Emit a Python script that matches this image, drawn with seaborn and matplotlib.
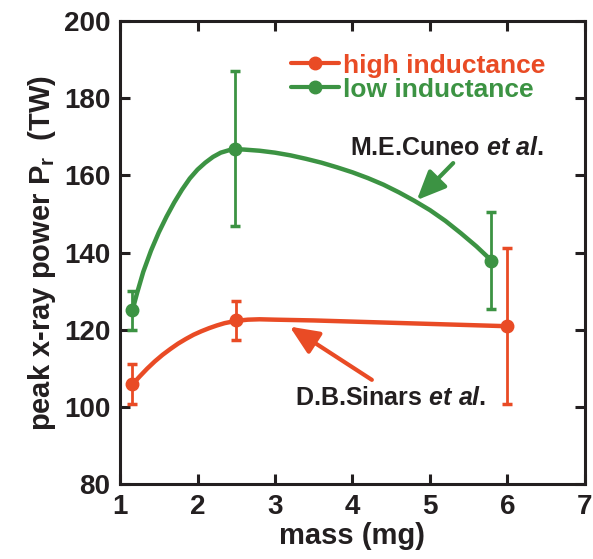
import matplotlib
matplotlib.use("Agg")
import matplotlib.pyplot as plt
import pandas as pd
import seaborn as sns
from matplotlib.lines import Line2D

RED = "#E94B25"
GREEN = "#3C9343"

# measured points with error bars
high_mass = [1.16, 2.5, 6.0]
high_power = [105.8, 122.4, 120.9]
high_err_lo = [5.0, 5.0, 20.1]
high_err_hi = [5.3, 5.1, 20.2]

low_mass = [1.16, 2.48, 5.79]
low_power = [125.0, 166.8, 137.9]
low_err_lo = [5.0, 19.9, 12.5]
low_err_hi = [5.0, 20.3, 12.7]

# smooth guide curves
high_curve_x = [1.16, 1.25, 1.35, 1.45, 1.55, 1.65, 1.75, 1.85, 1.95, 2.05, 2.15, 2.25, 2.35,
                2.5, 2.65, 2.8, 3.0, 3.5, 4.0, 4.5, 5.0, 5.5, 6.0]
high_curve_y = [105.8, 107.8, 109.9, 111.8, 113.5, 115.0, 116.4, 117.6, 118.7, 119.6, 120.4, 121.1, 121.7,
                122.3, 122.6, 122.7, 122.6, 122.4, 122.1, 121.8, 121.5, 121.2, 120.9]
low_curve_x = [1.16, 1.22, 1.3, 1.4, 1.5, 1.6, 1.7, 1.8, 1.9, 2.0, 2.1, 2.2, 2.3, 2.4, 2.48,
               2.6, 2.8, 3.0, 3.2, 3.4, 3.6, 3.8, 4.0, 4.2, 4.4, 4.6, 4.8, 5.0, 5.2, 5.4, 5.6, 5.79]
low_curve_y = [125.0, 129.5, 135.0, 140.5, 145.2, 149.3, 153.0, 156.3, 159.2, 161.5, 163.3, 164.8, 165.9, 166.5, 166.8,
               166.7, 166.4, 165.9, 165.2, 164.3, 163.3, 162.1, 160.8, 159.3, 157.6, 155.6, 153.4, 151.0, 148.2, 145.0, 141.6, 138.0]

x_ticks = [1, 2, 3, 4, 5, 6, 7]
y_ticks = [80, 100, 120, 140, 160, 180, 200]

sns.set_style("ticks")
plt.rcParams["font.family"] = ["Liberation Sans", "DejaVu Sans"]
plt.rcParams["font.weight"] = "bold"
plt.rcParams["mathtext.fontset"] = "custom"
plt.rcParams["mathtext.rm"] = "Liberation Sans:bold"
plt.rcParams["mathtext.it"] = "Liberation Sans:bold:italic"
plt.rcParams["mathtext.bf"] = "Liberation Sans:bold"

fig = plt.figure(figsize=(5.93, 5.59), dpi=100)
ax = fig.add_axes([0.2024, 0.1342, 0.784, 0.828])

high_df = pd.DataFrame({"mass": high_curve_x, "power": high_curve_y})
low_df = pd.DataFrame({"mass": low_curve_x, "power": low_curve_y})
sns.lineplot(data=high_df, x="mass", y="power", color=RED, lw=3.2, ax=ax, zorder=2)
sns.lineplot(data=low_df, x="mass", y="power", color=GREEN, lw=3.2, ax=ax, zorder=2)

ax.errorbar(high_mass, high_power, yerr=[high_err_lo, high_err_hi], fmt="o", color=RED,
            ms=9, elinewidth=2.0, capsize=3.5, capthick=2.5, zorder=3)
ax.errorbar(low_mass, low_power, yerr=[low_err_lo, low_err_hi], fmt="o", color=GREEN,
            ms=9, elinewidth=2.0, capsize=3.5, capthick=2.5, zorder=3)

ax.annotate("", xy=(4.83, 153.6), xytext=(5.30, 163.2),
            arrowprops=dict(arrowstyle="-|>,head_length=0.8,head_width=0.35", color=GREEN, lw=3,
                            mutation_scale=22, shrinkA=0, shrinkB=0))
ax.annotate("", xy=(3.19, 120.8), xytext=(4.25, 107.0),
            arrowprops=dict(arrowstyle="-|>,head_length=0.8,head_width=0.35", color=RED, lw=3,
                            mutation_scale=22, shrinkA=0, shrinkB=0))
ax.text(3.97, 167.2, r"M.E.Cuneo $\mathit{et\ al.}$", fontsize=18, fontweight="bold",
        color="#231F20", va="center", ha="left")
ax.text(3.26, 102.4, r"D.B.Sinars $\mathit{et\ al.}$", fontsize=18, fontweight="bold",
        color="#231F20", va="center", ha="left")

handles = [
    Line2D([], [], color=RED, lw=3, marker="o", ms=9),
    Line2D([], [], color=GREEN, lw=3, marker="o", ms=9),
]
leg = ax.legend(handles, ["high inductance", "low inductance"], loc="upper left",
                bbox_to_anchor=(0.368, 0.93), frameon=False, fontsize=19,
                handlelength=1.8, handletextpad=0.15, labelspacing=0.0, borderpad=0,
                borderaxespad=0)
for txt, col in zip(leg.get_texts(), [RED, GREEN]):
    txt.set_color(col)
    txt.set_fontweight("bold")

ax.set_xlim(1, 7)
ax.set_ylim(80, 200)
ax.set_xticks(x_ticks)
ax.set_yticks(y_ticks)
ax.tick_params(direction="in", length=7, width=2.2, top=True, right=True,
               labelsize=20, pad=7, colors="#231F20")
for lab in ax.get_xticklabels() + ax.get_yticklabels():
    lab.set_fontweight("bold")
for sp in ax.spines.values():
    sp.set_linewidth(2.2)
    sp.set_color("#231F20")

ax.set_xlabel("mass (mg)", fontsize=21, fontweight="bold", labelpad=2, color="#231F20")
ax.set_ylabel(r"peak x-ray power P$_{\mathrm{r}}$  (TW)", fontsize=21, fontweight="bold",
              labelpad=4, color="#231F20")

fig.savefig("out.png", dpi=100)
